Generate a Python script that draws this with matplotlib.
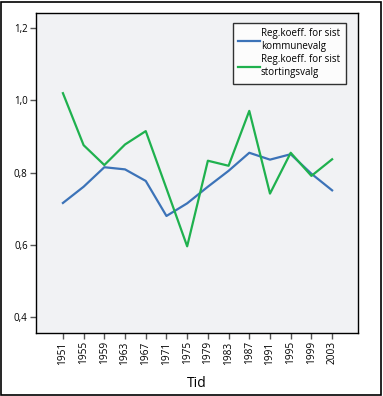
import matplotlib
matplotlib.use("Agg")
import matplotlib.pyplot as plt
from matplotlib.patches import Rectangle

years = ["1951", "1955", "1959", "1963", "1967", "1971", "1975", "1979",
         "1983", "1987", "1991", "1995", "1999", "2003"]
kommunevalg = [0.716, 0.761, 0.815, 0.809, 0.777, 0.680, 0.715, 0.761,
               0.805, 0.855, 0.836, 0.851, 0.797, 0.751]
stortingsvalg = [1.020, 0.876, 0.821, 0.878, 0.915, 0.756, 0.596, 0.833,
                 0.819, 0.971, 0.742, 0.855, 0.791, 0.837]
yticks = [0.4, 0.6, 0.8, 1.0, 1.2]
ytick_labels = ["0,4", "0,6", "0,8", "1,0", "1,2"]
series_labels = ["Reg.koeff. for sist\nkommunevalg", "Reg.koeff. for sist\nstortingsvalg"]

plt.rcParams['font.family'] = ['Open Sans', 'DejaVu Sans']

W, H = 383, 396
fig = plt.figure(figsize=(W / 100, H / 100), dpi=100)
fig.patch.set_facecolor("white")
fig.patches.append(Rectangle((1.5 / W, 1.5 / H), (W - 3.5) / W, (H - 3.5) / H,
                             transform=fig.transFigure, fill=False,
                             edgecolor="black", linewidth=1.2))

left, right, top, bottom = 36, 358, 13, 333
ax = fig.add_axes([left / W, 1 - bottom / H, (right - left) / W, (bottom - top) / H])
ax.set_facecolor("#f1f2f4")

x = list(range(len(years)))
ax.plot(x, kommunevalg, color="#3c73b8", linewidth=1.6, label=series_labels[0])
ax.plot(x, stortingsvalg, color="#1fb14e", linewidth=1.6, label=series_labels[1])

ax.set_xlim(-1.3, 14.25)
ax.set_ylim(0.356, 1.242)
ax.set_xticks(x)
ax.set_xticklabels(years, rotation=90, fontsize=7.3)
ax.set_yticks(yticks)
ax.set_yticklabels(ytick_labels, fontsize=7)
ax.tick_params(axis='both', length=4, width=1, color="#555555", pad=2)
for s in ax.spines.values():
    s.set_linewidth(1.0)
    s.set_color("black")

ax.set_xlabel("Tid", fontsize=10, labelpad=8)

leg = ax.legend(loc="upper right", bbox_to_anchor=(0.962, 0.97), fontsize=7,
                frameon=True, fancybox=False, edgecolor="black", handlelength=2.2,
                handletextpad=0.1, borderpad=0.6, labelspacing=0.25,
                borderaxespad=0.0)
leg.get_frame().set_linewidth(1.0)

fig.savefig("out.png", dpi=100)
